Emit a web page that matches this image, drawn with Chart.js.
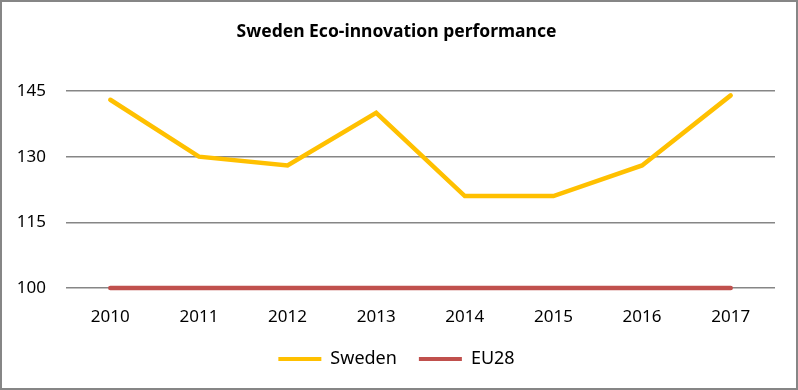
<!DOCTYPE html>
<html>
<head>
<meta charset="utf-8">
<script src="https://cdn.jsdelivr.net/npm/chart.js@4"></script>
<style>
  body { margin: 0; background: #fff; }
  #wrap { width: 798px; height: 390px; position: relative; }
</style>
</head>
<body>
<div id="wrap"><canvas id="ecoChart" width="798" height="390"></canvas></div>
<script>
const years = ['2010', '2011', '2012', '2013', '2014', '2015', '2016', '2017'];
const sweden = [143, 130, 128, 140, 121, 121, 128, 144];
const eu28 = [100, 100, 100, 100, 100, 100, 100, 100];
const yTicks = [100, 115, 130, 145];

const frame = {
    id: 'frame',
    afterDraw(chart) {
        const c = chart.ctx;
        c.save();
        c.strokeStyle = '#868686';
        c.lineWidth = 2;
        c.strokeRect(1, 1, chart.width - 2, chart.height - 2);
        c.restore();
    }
};

const ctx = document.getElementById('ecoChart').getContext('2d');
const chart = new Chart(ctx, {
    type: 'line',
    data: {
        labels: years,
        datasets: [{
            label: 'Sweden',
            data: sweden,
            borderColor: '#FFC000',
            backgroundColor: '#FFC000',
            borderWidth: 4.5,
            borderCapStyle: 'round',
            pointRadius: 0,
            clip: false,
            fill: false
        }, {
            label: 'EU28',
            data: eu28,
            borderColor: '#C0504D',
            backgroundColor: '#C0504D',
            borderWidth: 4.5,
            borderCapStyle: 'round',
            pointRadius: 0,
            clip: false,
            fill: false
        }]
    },
    plugins: [frame],
    options: {
        responsive: false,
        animation: false,
        layout: { padding: { left: 9, right: 14, top: 0, bottom: 12 } },
        plugins: {
            title: {
                display: true,
                text: 'Sweden Eco-innovation performance',
                color: '#000',
                font: { family: 'Noto Sans', size: 17.5, weight: 'bold' },
                padding: { top: 22, bottom: 48 }
            },
            legend: {
                position: 'bottom',
                labels: {
                    color: '#000',
                    font: { family: 'Noto Sans', size: 18 },
                    boxWidth: 43,
                    boxHeight: 4,
                    padding: 22,
                    generateLabels(ch) {
                        return ch.data.datasets.map((ds, i) => ({
                            text: ds.label,
                            fillStyle: ds.borderColor,
                            strokeStyle: ds.borderColor,
                            lineWidth: 0,
                            datasetIndex: i
                        }));
                    }
                }
            },
            tooltip: { enabled: false }
        },
        scales: {
            x: {
                offset: true,
                afterFit(scale) { scale.height = 40; },
                grid: { display: false, drawTicks: false },
                border: { display: false },
                ticks: {
                    color: '#000',
                    font: { family: 'Noto Sans', size: 17 },
                    padding: 19
                }
            },
            y: {
                min: 100,
                max: 145,
                afterBuildTicks(scale) {
                    scale.ticks = yTicks.map(v => ({ value: v }));
                },
                afterFit(scale) { scale.width = 57; },
                grid: { color: '#868686', lineWidth: 1.5, drawTicks: false },
                border: { display: false },
                ticks: {
                    color: '#000',
                    font: { family: 'Noto Sans', size: 17 },
                    padding: 20
                }
            },
            yRight: {
                position: 'right',
                afterFit(scale) { scale.width = 9; },
                grid: { display: false },
                border: { display: false },
                ticks: { display: false }
            }
        }
    }
});
</script>
</body>
</html>
